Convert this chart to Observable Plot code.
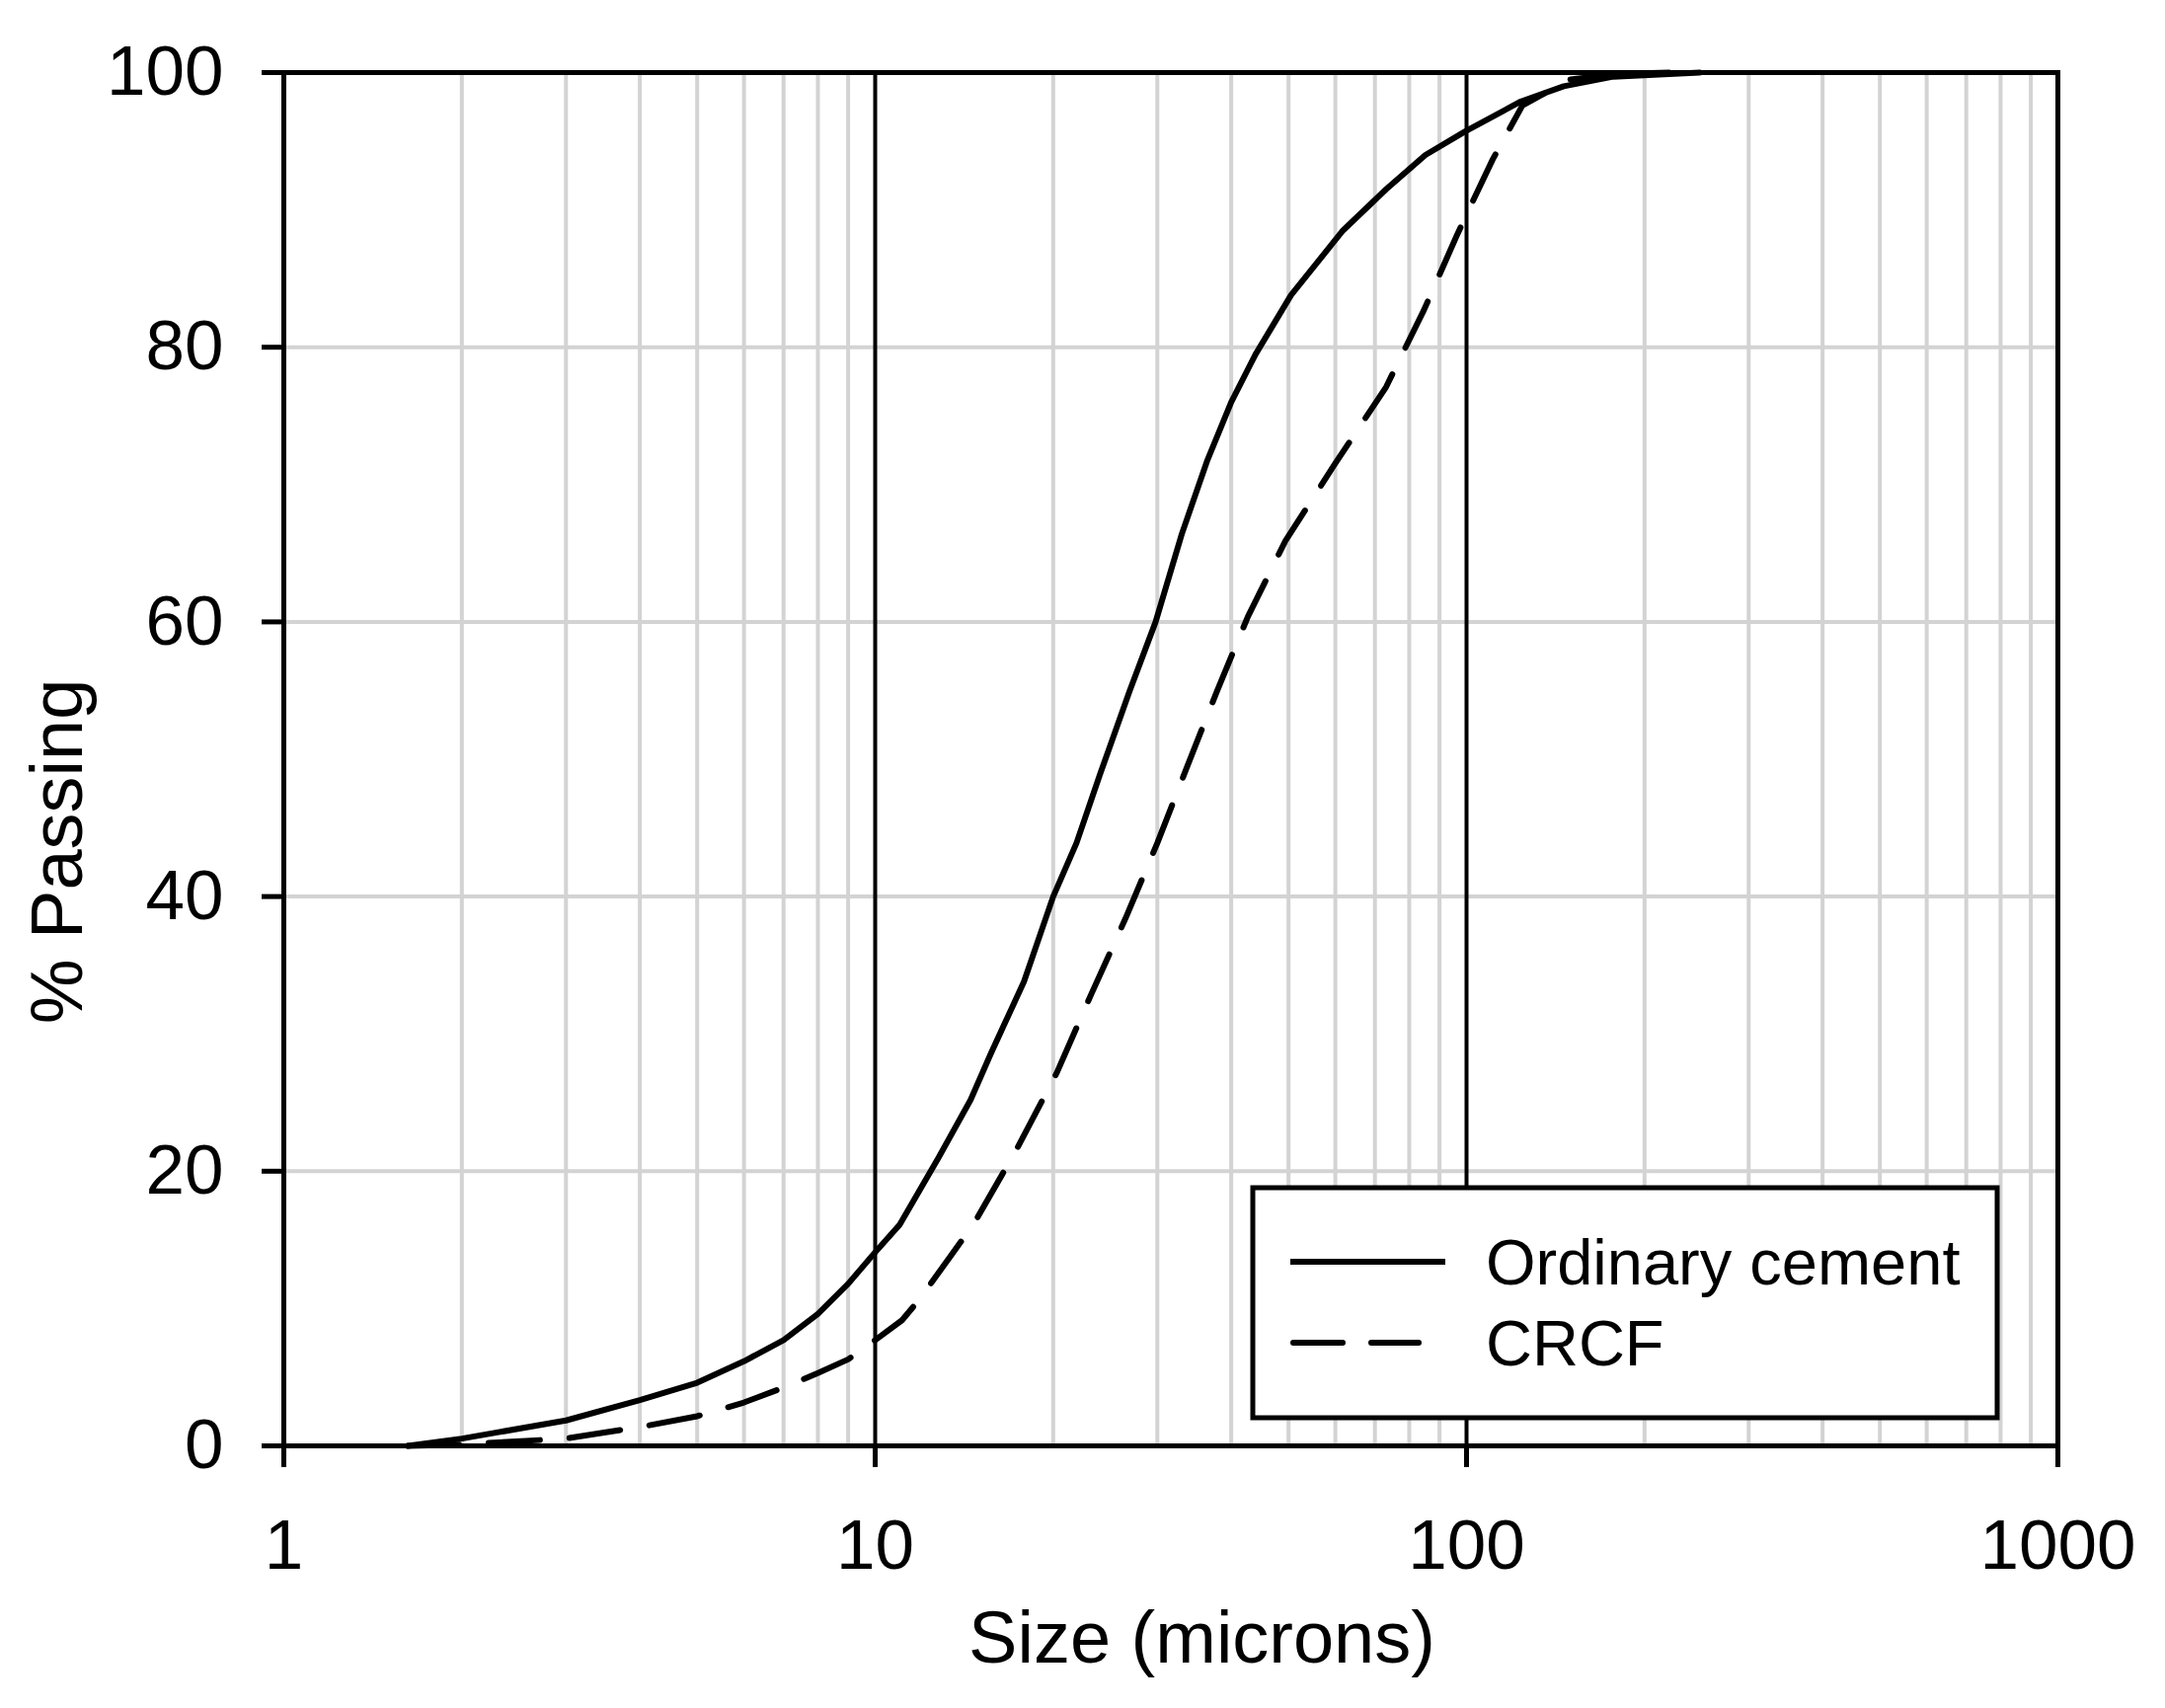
<!DOCTYPE html>
<html>
<head>
<meta charset="utf-8">
<script src="https://cdn.jsdelivr.net/npm/d3@7"></script>
<script src="https://cdn.jsdelivr.net/npm/@observablehq/plot@0.6"></script>
<style>
  html, body { margin: 0; padding: 0; background: white; }
</style>
</head>
<body>
<div id="chart"></div>
<script>
// ---- data ----
const ocSize = [1.62, 2, 3, 4, 5, 6, 7, 8, 9, 10, 11, 12.8, 14.5, 15.7, 17.85, 20, 21.9, 24, 26.9, 29.8, 33, 36.4, 40, 44, 50.5, 61.8, 73.1, 85.2, 99.3, 123.6, 146, 177, 248];
const ocPass = [0, 0.53, 1.85, 3.33, 4.6, 6.16, 7.7, 9.6, 11.8, 14.1, 16.1, 21.0, 25.2, 28.6, 33.8, 40.0, 43.9, 48.9, 54.9, 60.0, 66.4, 71.7, 76.0, 79.5, 83.8, 88.5, 91.5, 94.0, 95.7, 97.9, 99.0, 99.7, 100];

const crSize = [1.62, 2, 3, 4, 5, 6, 7, 8, 9, 10, 11.1, 11.85, 14.7, 17.4, 20.3, 23.2, 26.5, 30, 33.65, 37.8, 42.7, 49.4, 59.9, 73.1, 84.7, 96.2, 100.6, 110.8, 124.3, 149.7, 180, 220];
const crPass = [0, 0.1, 0.53, 1.37, 2.16, 3.16, 4.24, 5.3, 6.3, 7.7, 9.15, 10.6, 16.2, 21.7, 27.2, 32.9, 38.4, 43.9, 49.4, 54.9, 60.4, 65.9, 71.5, 77.1, 82.7, 88.1, 89.9, 93.7, 97.6, 99.5, 99.9, 100];

const seriesNames = ["Ordinary cement", "CRCF"];
const xTicks = [1, 10, 100, 1000];
const yTicks = [0, 20, 40, 60, 80, 100];
const xMinorGrid = [2, 3, 4, 5, 6, 7, 8, 9, 20, 30, 40, 50, 60, 70, 80, 90, 200, 300, 400, 500, 600, 700, 800, 900];
const xMajorGrid = [10, 100];
const yGrid = [20, 40, 60, 80];
const xLabel = "Size (microns)";
const yLabel = "% Passing";

// tables built from the arrays
const oc = ocSize.map((s, i) => ({size: s, pass: ocPass[i]}));
const cr = crSize.map((s, i) => ({size: s, pass: crPass[i]}));

const FONT = "'Liberation Sans', Arial, Helvetica, sans-serif";

const chart = Plot.plot({
  width: 2193,
  height: 1730,
  marginLeft: 287,
  marginRight: 109,
  marginTop: 73,
  marginBottom: 266,
  style: {fontFamily: FONT, background: "white", color: "black"},
  x: {type: "log", domain: [1, 1000]},
  y: {domain: [0, 100]},
  marks: [
    Plot.ruleX(xMinorGrid, {stroke: "#d3d3d3", strokeWidth: 4}),
    Plot.ruleY(yGrid, {stroke: "#d3d3d3", strokeWidth: 4}),
    Plot.ruleX(xMajorGrid, {stroke: "black", strokeWidth: 4}),
    Plot.line(cr, {x: "size", y: "pass", stroke: "black", strokeWidth: 6,
      strokeDasharray: "52,30", strokeLinecap: "round", strokeLinejoin: "round", curve: "linear"}),
    Plot.line(oc, {x: "size", y: "pass", stroke: "black", strokeWidth: 6,
      strokeLinejoin: "round", curve: "linear"}),
    Plot.frame({stroke: "black", strokeWidth: 5}),
    Plot.axisX(xTicks, {tickSize: 22, tickPadding: 52, fontSize: 71, strokeWidth: 5,
      tickFormat: d => String(d), label: null}),
    Plot.axisY(yTicks, {tickSize: 22, tickPadding: 39, fontSize: 71, strokeWidth: 5,
      tickFormat: d => String(d), label: null}),
    Plot.text([xLabel], {text: d => d, frameAnchor: "top-left", dx: 930, dy: 1610,
      textAnchor: "middle", lineAnchor: "bottom", fontSize: 74, fill: "black"}),
    Plot.text([yLabel], {text: d => d, frameAnchor: "top-left", dx: -205, dy: 789,
      rotate: -90, textAnchor: "middle", lineAnchor: "bottom", fontSize: 74, fill: "black"})
  ]
});

// ---- legend box (drawn inside the same SVG) ----
const svg = d3.select(chart);
const lg = svg.append("g").attr("class", "legend").attr("text-anchor", "start");
lg.append("rect")
  .attr("x", 1269).attr("y", 1203).attr("width", 754).attr("height", 233)
  .attr("fill", "white").attr("stroke", "black").attr("stroke-width", 5);
const rows = [
  {name: seriesNames[0], y: 1278, dash: null},
  {name: seriesNames[1], y: 1360, dash: "50,29"}
];
rows.forEach(r => {
  const ln = lg.append("line")
    .attr("x1", r.dash ? 1310 : 1307).attr("x2", r.dash ? 1437 : 1464)
    .attr("y1", r.y).attr("y2", r.y)
    .attr("stroke", "black").attr("stroke-width", 6);
  if (r.dash) ln.attr("stroke-dasharray", r.dash).attr("stroke-linecap", "round");
  lg.append("text")
    .attr("x", 1505).attr("y", r.y + 23)
    .attr("text-anchor", "start")
    .attr("font-family", FONT).attr("font-size", 65).attr("fill", "black")
    .text(r.name);
});

document.getElementById("chart").appendChild(chart);
</script>
</body>
</html>
